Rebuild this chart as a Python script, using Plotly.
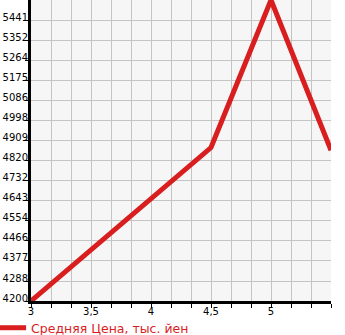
import plotly.graph_objects as go

x_values = [3, 4.5, 5, 5.5]
price_values = [4200, 4878, 5530, 4866]
series_name = "Средняя Цена, тыс. йен"

x_tick_values = [3, 3.5, 4, 4.5, 5]
x_tick_labels = ["3", "3,5", "4", "4,5", "5"]
y_tick_values = [4200, 4288, 4377, 4466, 4554, 4643, 4732, 4820, 4909, 4998, 5086, 5175, 5264, 5352, 5441]
y_tick_labels = [str(v) for v in y_tick_values]

RED = "#d81e1e"

fig = go.Figure()
fig.add_trace(go.Scatter(
    x=x_values, y=price_values, mode="lines", name=series_name,
    line=dict(color=RED, width=5),
    showlegend=True,
))

fig.update_layout(
    width=345, height=335,
    margin=dict(l=31, r=14, t=0, b=34, autoexpand=False),
    paper_bgcolor="white",
    plot_bgcolor="#f6f6f6",
    font=dict(family="DejaVu Sans", size=10, color="black"),
    showlegend=True,
    legend=dict(
        orientation="h", x=-0.133, xanchor="left", y=-0.09, yanchor="middle",
        font=dict(size=12.5, color=RED), bgcolor="rgba(0,0,0,0)",
        itemwidth=30,
    ),
)
fig.update_xaxes(
    range=[3, 5.5],
    tickmode="array", tickvals=x_tick_values, ticktext=x_tick_labels,
    showgrid=True, gridcolor="#c4c4c4", gridwidth=1,
    ticks="outside", ticklen=4, tickcolor="black", tickwidth=1,
    showline=True, linecolor="black", linewidth=3,
    zeroline=False, ticklabelstandoff=-5,
    minor=dict(tick0=3, dtick=1/6, showgrid=True, gridcolor="#c4c4c4", gridwidth=1,
               ticks="outside", ticklen=4, tickcolor="black"),
)
fig.update_yaxes(
    range=[4200, 5530],
    tickmode="array", tickvals=y_tick_values, ticktext=y_tick_labels,
    tickfont=dict(size=10),
    showgrid=True, gridcolor="#c4c4c4", gridwidth=1,
    ticks="outside", ticklen=3, tickcolor="black", tickwidth=1,
    showline=True, linecolor="black", linewidth=3,
    zeroline=False, ticklabelstandoff=-5, ticklabelshift=-3,
)

fig.write_html("out.html")
